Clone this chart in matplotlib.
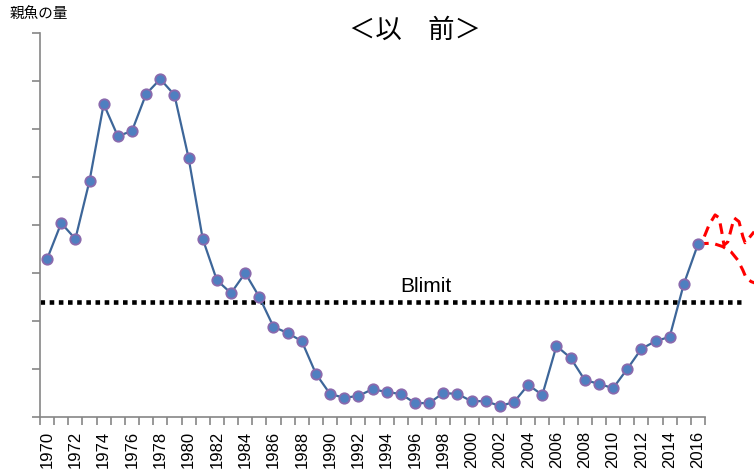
import numpy as np
import matplotlib
matplotlib.use("Agg")
import matplotlib.pyplot as plt
from matplotlib.ticker import FixedLocator, NullFormatter

## spawning stock (relative units, 1 grid step = 1)
years = list(range(1970, 2017))
stock = [3.29, 4.04, 3.71, 4.92, 6.52, 5.85, 5.96, 6.73, 7.04, 6.71,
         5.40, 3.71, 2.85, 2.58, 3.00, 2.50, 1.88, 1.75, 1.58, 0.90,
         0.48, 0.40, 0.44, 0.58, 0.52, 0.48, 0.29, 0.29, 0.50, 0.48,
         0.33, 0.33, 0.23, 0.31, 0.67, 0.46, 1.48, 1.23, 0.77, 0.69,
         0.60, 1.00, 1.42, 1.58, 1.67, 2.77, 3.60]

blimit = 2.40

## hand drawn red dashes after 2016
sketch_a_x = [2016.45, 2016.78, 2017.21, 2017.49, 2017.68, 2017.84, 2018.11,
              2018.46, 2018.55, 2018.90, 2019.17, 2019.33, 2019.61, 2019.97]
sketch_a_y = [3.76, 4.00, 4.21, 4.15, 3.86, 3.58, 3.65,
              4.04, 4.15, 4.07, 3.76, 3.63, 3.73, 3.86]
sketch_b_x = [2016.0, 2017.04, 2017.75, 2018.34, 2018.81, 2019.17, 2019.40, 2019.76, 2020.04]
sketch_b_y = [3.61, 3.62, 3.55, 3.44, 3.27, 3.06, 2.90, 2.82, 2.79]

plt.rcParams['font.family'] = ['Liberation Sans', 'Noto Sans CJK JP', 'DejaVu Sans']

fig = plt.figure(figsize=(7.54, 4.76), dpi=100)
ax = fig.add_axes([40/754, 59/476, 714/754, 384/476])

ax.plot(years, stock, color="#3d6699", lw=1.6, marker="o", markersize=7.5,
        markerfacecolor="#4f7fc0", markeredgecolor="#8a6aad", markeredgewidth=1.3, zorder=3)

ax.plot([1969.5, 2019.05], [blimit, blimit], color="black", lw=3.3,
        linestyle=(0, (1, 1)), dash_capstyle="butt", zorder=2)
ax.text(1996.8, blimit + 0.31, "Blimit", fontsize=15, ha="center", va="center")

ax.plot(sketch_a_x, sketch_a_y, color="red", lw=2.2, linestyle=(0, (3.5, 2.2)), zorder=2)
ax.plot(sketch_b_x, sketch_b_y, color="red", lw=2.2, linestyle=(0, (3.5, 2.2)), zorder=2)

ax.set_xlim(1969.5, 1969.5 + 714/14.15)
ax.set_ylim(0, 8)

for s in ["top", "right"]:
    ax.spines[s].set_visible(False)
for s in ["left", "bottom"]:
    ax.spines[s].set_color("#868686")
    ax.spines[s].set_linewidth(1.2)
ax.spines["bottom"].set_bounds(1969.5, 2016.5)

ax.set_yticks(range(0, 9))
ax.set_yticklabels([])
ax.tick_params(axis="y", length=6, color="#868686", width=1.2)

ax.set_xticks(years[::2])
ax.set_xticklabels([str(y) for y in years[::2]], rotation=90, fontsize=12)
ax.xaxis.set_minor_locator(FixedLocator(np.arange(1969.5, 2017, 1)))
ax.xaxis.set_minor_formatter(NullFormatter())
ax.tick_params(axis="x", which="major", length=0, pad=10)
ax.tick_params(axis="x", which="minor", length=6, color="#868686", width=1.2)

fig.text(415/754, 1 - 30/476, "＜以　前＞", fontsize=19, ha="center", va="center",
         family=["Noto Sans CJK JP", "DejaVu Sans"])
fig.text(10/754, 1 - 15/476, "親魚の量", fontsize=10.5, ha="left", va="center",
         family=["Noto Sans CJK JP", "DejaVu Sans"])

fig.savefig("out.png", dpi=100)
